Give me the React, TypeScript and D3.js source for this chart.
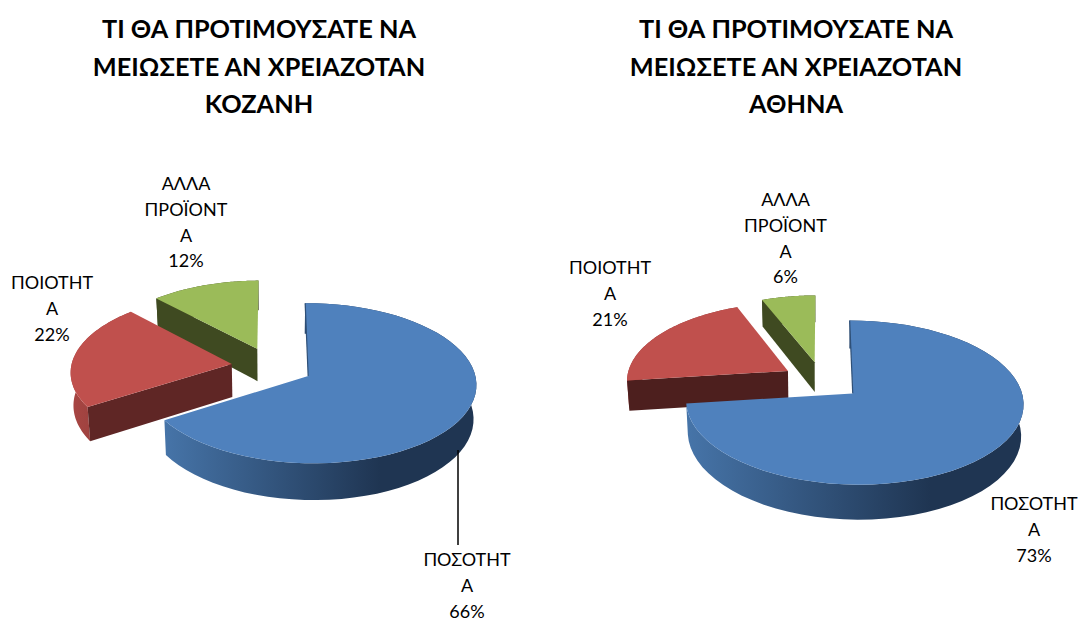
import * as d3 from "d3"

const categories = ["ΠΟΣΟΤΗΤΑ", "ΠΟΙΟΤΗΤΑ", "ΑΛΛΑ ΠΡΟΪΟΝΤΑ"]
const kozaniValues = [66, 22, 12]
const athinaValues = [73, 21, 6]
const titleLines = ["ΤΙ ΘΑ ΠΡΟΤΙΜΟΥΣΑΤΕ ΝΑ", "ΜΕΙΩΣΕΤΕ ΑΝ ΧΡΕΙΑΖΟΤΑΝ"]
const cities = ["ΚΟΖΑΝΗ", "ΑΘΗΝΑ"]
const labelLines = [["ΠΟΣΟΤΗΤ", "Α"], ["ΠΟΙΟΤΗΤ", "Α"], ["ΑΛΛΑ", "ΠΡΟΪΟΝΤ", "Α"]]

const fontFamily = "Lato, 'Open Sans', sans-serif"
const topColors = ["#4f81bd", "#c0504d", "#9bbb59"]

const charts = [
    {
        id: "kozani",
        values: kozaniValues,
        city: cities[0],
        titleX: 259,
        geo: { cx: 272, cy: 366.5, rx: 163, ry: 77.5, p: 0.09, q: 0.01, explode: 0.25, depth: 33, taper: 0.014 },
        faces: ["#1f3552", "#5f2625", "#3f4a21"],
        rim: [165, 380],
        labels: [
            { x: 467, y: 566 },
            { x: 52, y: 289 },
            { x: 186, y: 190 },
        ],
        leader: { x: 458, y1: 450, y2: 545 },
    },
    {
        id: "athina",
        values: athinaValues,
        city: cities[1],
        titleX: 796,
        geo: { cx: 822, cy: 380.5, rx: 164, ry: 78, p: 0.11, q: 0.01, explode: 0.245, depth: 30.5, taper: 0.012 },
        faces: ["#1f3552", "#4d1f1e", "#3f4a21"],
        rim: [688, 930],
        labels: [
            { x: 1034, y: 510 },
            { x: 610, y: 274 },
            { x: 785.5, y: 206 },
        ],
        leader: null,
    },
]

type Chart = (typeof charts)[number]

const pathOf = d3.line()

function Slice({ arc, index, chart }: { arc: d3.PieArcDatum<number>; index: number; chart: Chart }) {
    const geo = chart.geo
    const mid = (arc.startAngle + arc.endAngle) / 2
    const ox = Math.sin(mid) * geo.explode
    const oy = -Math.cos(mid) * geo.explode

    // plane point -> screen, with a little perspective on the far side
    const project = (a: number | null, z: number): [number, number] => {
        const X = ox + (a === null ? 0 : Math.sin(a))
        const Y = oy - (a === null ? 0 : Math.cos(a))
        const w = 1 - geo.p * Y - geo.q * X
        return [geo.cx + ((geo.rx * X) / w) * (1 - geo.taper * z), geo.cy + (geo.ry * Y + geo.depth * z) / w]
    }

    const angles = d3.range(0, 61).map((i) => arc.startAngle + ((arc.endAngle - arc.startAngle) * i) / 60)
    const top = [project(null, 0), ...angles.map((a) => project(a, 0))]
    const rim = [...angles.map((a) => project(a, 0)), ...angles.slice().reverse().map((a) => project(a, 1))]
    const face = (a: number) => [project(null, 0), project(a, 0), project(a, 1), project(null, 1)] as [number, number][]

    return (
        <g>
            <path d={pathOf(rim) + "Z"} fill={`url(#${chart.id}-${index})`} />
            {/* the big slice's cut faces point away, the other two show theirs */}
            {index > 0 && <path d={pathOf(face(arc.startAngle)) + "Z"} fill={chart.faces[index]} />}
            <path d={pathOf(top) + "Z"} fill={topColors[index]} />
            {index === 0 && (
                <path d={pathOf([project(arc.startAngle, 0), project(null, 0)])} fill="none" stroke="#2f5077" strokeWidth={1.2} />
            )}
        </g>
    )
}

function PieChart({ chart }: { chart: Chart }) {
    const arcs = d3.pie<number>().sort(null)(chart.values)
    const rimStops = [
        ["#4674a8", "#1f3552"],
        ["#ad4845", "#8f3b39"],
        ["#3f4a21", "#3f4a21"],
    ]

    return (
        <g>
            <defs>
                {rimStops.map((s, i) => (
                    <linearGradient
                        key={i}
                        id={`${chart.id}-${i}`}
                        gradientUnits="userSpaceOnUse"
                        x1={i === 0 ? chart.rim[0] : chart.geo.cx - chart.geo.rx * 1.3}
                        x2={i === 0 ? chart.rim[1] : chart.geo.cx - chart.geo.rx * 0.9}
                        y1={0}
                        y2={0}
                    >
                        <stop offset="0" stopColor={s[0]} />
                        <stop offset="1" stopColor={s[1]} />
                    </linearGradient>
                ))}
            </defs>

            {/* title */}
            <text textAnchor="middle" fontFamily={fontFamily} fontWeight="700" fontSize={25.3} fill="#000">
                {[...titleLines, chart.city].map((line, i) => (
                    <tspan key={i} x={chart.titleX} y={38 + i * 37.5}>
                        {line}
                    </tspan>
                ))}
            </text>

            {/* far slices first so the big one sits on top */}
            {[2, 1, 0].map((i) => (
                <Slice key={i} arc={arcs[i]} index={i} chart={chart} />
            ))}

            {chart.leader && (
                <line
                    x1={chart.leader.x}
                    x2={chart.leader.x}
                    y1={chart.leader.y1}
                    y2={chart.leader.y2}
                    stroke="#000"
                    strokeWidth={1.5}
                />
            )}

            {/* labels */}
            {categories.map((_, i) => (
                <text key={i} textAnchor="middle" fontFamily={fontFamily} fontSize={18} fill="#000">
                    {[...labelLines[i], `${chart.values[i]}%`].map((line, j) => (
                        <tspan key={j} x={chart.labels[i].x} y={chart.labels[i].y + j * 25.8}>
                            {line}
                        </tspan>
                    ))}
                </text>
            ))}
        </g>
    )
}

export default function App() {
    return (
        <svg
            width={1078}
            height={618}
            viewBox="0 0 1078 618"
            style={{ position: "absolute", left: 0, top: 0, background: "#fff" }}
        >
            {charts.map((c) => (
                <PieChart key={c.id} chart={c} />
            ))}
        </svg>
    )
}
